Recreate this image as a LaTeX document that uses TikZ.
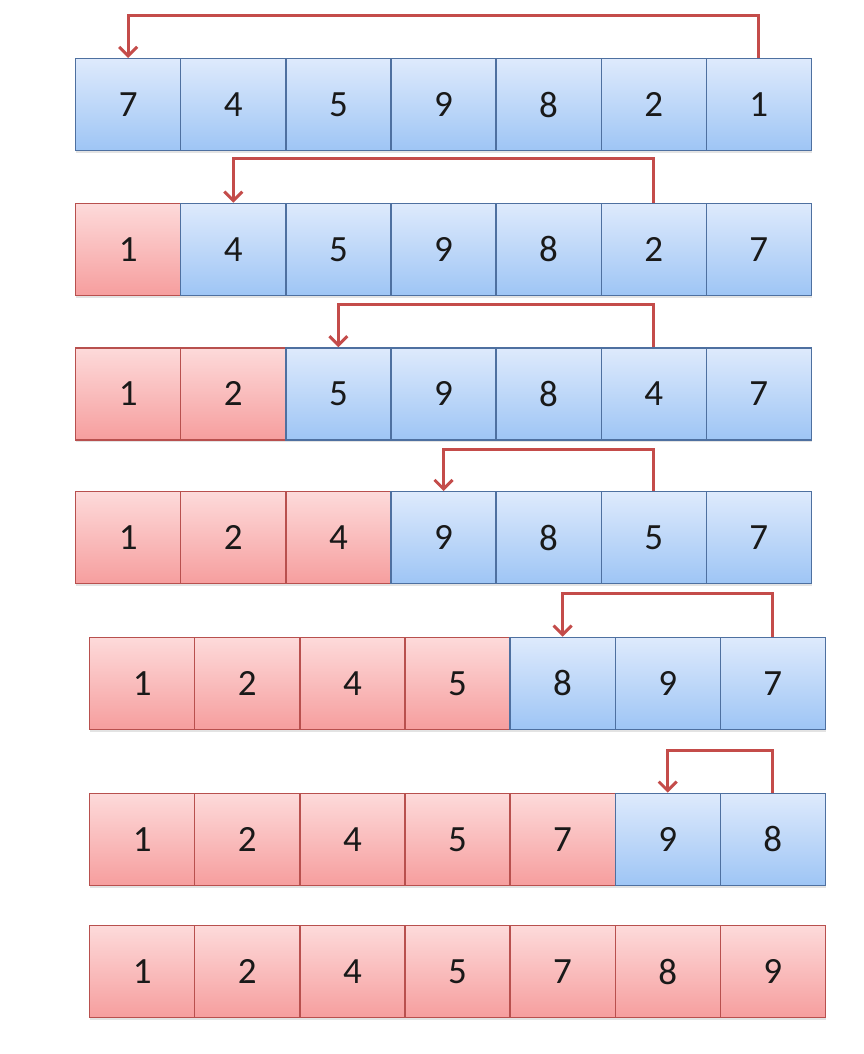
\documentclass[tikz,border=0pt]{standalone}
\usepackage{fontspec}
\setmainfont{Carlito}
\usetikzlibrary{arrows.meta,shadows}
\definecolor{bluetop}{RGB}{222,234,252}
\definecolor{bluebot}{RGB}{158,197,245}
\definecolor{blueline}{RGB}{78,112,160}
\definecolor{redtop}{RGB}{253,218,218}
\definecolor{redbot}{RGB}{246,158,158}
\definecolor{redline}{RGB}{184,80,78}
\definecolor{arrowred}{RGB}{196,76,74}
\definecolor{digit}{RGB}{25,25,25}
\tikzset{
  cellbase/.style={anchor=north west, minimum width=105.1pt, minimum height=92pt,
    inner sep=0pt, line width=1.3pt, text=digit,
    font=\fontsize{37}{40}\selectfont,
    drop shadow={opacity=0.22, shadow xshift=0.5pt, shadow yshift=-2.5pt}},
  bluecell/.style={cellbase, draw=blueline, top color=bluetop, bottom color=bluebot},
  redcell/.style={cellbase, draw=redline, top color=redtop, bottom color=redbot},
  swaparrow/.style={draw=arrowred, line width=3pt,
    -{Straight Barb[length=9pt,width=18pt]}}
}
\newcommand\cellrow[5]{%
  \foreach \v [count=\j] in {#5} {%
    \ifnum\j>#4\relax
      \node[bluecell] (r#1c\j) at ({#2+(\j-1)*105.1},#3) {\v};
    \else
      \node[redcell] (r#1c\j) at ({#2+(\j-1)*105.1},#3) {\v};
    \fi
  }%
}
\begin{document}
\begin{tikzpicture}[x=1pt,y=-1pt]
\useasboundingbox[fill=white] (0,0) rectangle (864,1054);
\cellrow{1}{75}{58}{0}{7,4,5,9,8,2,1}
\cellrow{2}{75}{202.7}{1}{1,4,5,9,8,2,7}
\cellrow{3}{75}{347.3}{2}{1,2,5,9,8,4,7}
\cellrow{4}{75}{491}{3}{1,2,4,9,8,5,7}
\cellrow{5}{89}{636.7}{4}{1,2,4,5,8,9,7}
\cellrow{6}{89}{792.7}{5}{1,2,4,5,7,9,8}
\cellrow{7}{89}{925}{7}{1,2,4,5,7,8,9}
\draw[swaparrow] (r1c7.north) -- ++(0,-42) -| (r1c1.north);
\draw[swaparrow] (r2c6.north) -- ++(0,-44) -| (r2c2.north);
\draw[swaparrow] (r3c6.north) -- ++(0,-43) -| (r3c3.north);
\draw[swaparrow] (r4c6.north) -- ++(0,-42) -| (r4c4.north);
\draw[swaparrow] (r5c7.north) -- ++(0,-43) -| (r5c5.north);
\draw[swaparrow] (r6c7.north) -- ++(0,-42) -| (r6c6.north);
\end{tikzpicture}
\end{document}
